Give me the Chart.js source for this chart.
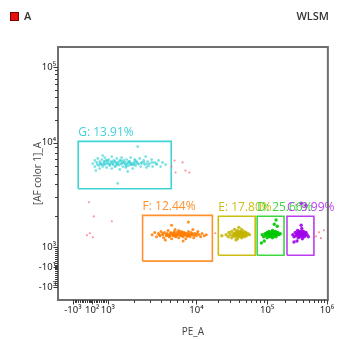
<!DOCTYPE html>
<html><head><meta charset="utf-8">
<script src="https://cdn.jsdelivr.net/npm/chart.js@4/dist/chart.umd.min.js"></script>
<style>html,body{margin:0;padding:0;background:#fff}#wrap{width:339px;height:340px;position:relative}</style>
</head><body><div id="wrap"><canvas id="c" width="339" height="340"></canvas></div>
<script>
// ---------- texts ----------
const xTitle = 'PE_A';
const yTitle = '[AF color 1]_A';
const legendLabel = 'A';
const sampleName = 'WLSM';
// ---------- tick labels ----------
const xMajorTicks = [-1000, 100, 1000, 1e4, 1e5, 1e6];
const xMajorLabels = ['-10³', '10²', '10³', '10⁴', '10⁵', '10⁶'];
const yMajorTicks = [-1000, -10, 1000, 1e4, 1e5];
const yMajorLabels = ['-10³', '-10¹', '10³', '10⁴', '10⁵'];
// ---------- gates (raw intensity) ----------
const gateNames = ['G', 'F', 'E', 'D', 'C'];
const gatePercents = ['13.91', '12.44', '17.80', '25.66', '9.99'];
const gateX = [[-697, 5200], [2470, 16800], [20400, 67800], [72300, 192000], [215000, 607000]];
const gateY = [[3620, 10400], [300, 2017], [600, 1975], [600, 1975], [600, 1975]];
// ---------- populations (log10 PE_A, log10 AF) ----------
const popG = [[2.16,3.80],[2.41,3.829],[2.41,3.771],[2.57,3.81],[2.63,3.848],[2.69,3.781],[2.73,3.819],[2.73,3.752],[2.78,3.80],[2.82,3.838],[2.85,3.771],[2.89,3.81],[2.92,3.857],[2.92,3.79],[2.95,3.829],[2.97,3.762],[3.0,3.80],[3.011,3.838],[3.022,3.781],[3.034,3.819],[3.045,3.867],[3.045,3.752],[3.056,3.80],[3.067,3.829],[3.079,3.771],[3.09,3.81],[3.101,3.848],[3.112,3.79],[3.124,3.819],[3.135,3.743],[3.146,3.80],[3.157,3.857],[3.169,3.771],[3.18,3.829],[3.191,3.80],[3.202,3.762],[3.213,3.838],[3.225,3.81],[3.236,3.781],[3.247,3.819],[3.258,3.857],[3.27,3.79],[3.281,3.752],[3.292,3.81],[3.303,3.838],[3.315,3.781],[3.326,3.819],[3.337,3.80],[3.36,3.848],[3.371,3.771],[3.382,3.81],[3.404,3.829],[3.416,3.79],[3.438,3.762],[3.449,3.819],[3.472,3.80],[3.494,3.838],[3.506,3.771],[3.528,3.81],[3.551,3.79],[3.573,3.829],[3.596,3.771],[3.618,3.81],[3.652,3.79],[3.112,3.61],[3.337,3.962],[2.50,3.733],[2.85,3.876],[3.225,3.724],[3.427,3.867],[3.05,3.815],[3.1,3.795],[3.15,3.825],[3.2,3.79],[3.25,3.805],[3.3,3.795],[3.02,3.79],[3.17,3.81],[2.9,3.82],[2.8,3.79],
  [2.95,3.80],[3.0,3.815],[3.03,3.80],[3.06,3.79],[3.08,3.82],[3.11,3.805],[3.13,3.785],[3.16,3.80],[3.19,3.815],[3.22,3.795],[3.24,3.82],[3.27,3.80],[3.29,3.785],[3.32,3.81],[3.35,3.795],[3.38,3.80],[3.41,3.81],[3.44,3.795],[2.87,3.79],[2.99,3.83],[3.14,3.835],[3.21,3.775],[3.31,3.83],[3.09,3.775],[3.26,3.79],[2.75,3.80],[2.6,3.79],[3.46,3.78],[3.5,3.81],[3.55,3.80]];
const popF = [[3.50,3.12],[3.53,3.14],[3.55,3.10],[3.57,3.13],[3.59,3.11],[3.60,3.15],[3.62,3.12],[3.63,3.09],[3.64,3.14],[3.66,3.11],[3.67,3.13],[3.68,3.16],[3.69,3.10],[3.70,3.12],[3.71,3.14],[3.72,3.08],[3.73,3.13],[3.74,3.11],[3.75,3.15],[3.76,3.12],[3.77,3.10],[3.78,3.14],[3.79,3.12],[3.80,3.09],[3.80,3.16],[3.81,3.13],[3.82,3.11],[3.83,3.15],[3.84,3.12],[3.85,3.10],[3.86,3.14],[3.87,3.12],[3.88,3.08],[3.89,3.13],[3.90,3.11],[3.91,3.15],[3.92,3.12],[3.93,3.10],[3.94,3.14],[3.95,3.12],[3.97,3.09],[3.98,3.13],[4.00,3.11],[4.02,3.15],[4.04,3.12],[4.06,3.10],[4.08,3.13],[4.11,3.11],[4.14,3.12],[3.72,3.21],[3.91,3.24],[3.65,3.07],[3.85,3.06],[3.76,3.17],[3.96,3.17],[3.70,3.105],[3.78,3.125],[3.83,3.135],[3.88,3.115],[3.74,3.13],
  [3.66,3.125],[3.68,3.115],[3.71,3.13],[3.73,3.12],[3.75,3.135],[3.77,3.115],[3.79,3.13],[3.81,3.12],[3.82,3.14],[3.84,3.11],[3.86,3.125],[3.87,3.135],[3.89,3.12],[3.91,3.13],[3.93,3.12],[3.95,3.13],[3.97,3.115],[3.99,3.125],[3.62,3.13],[3.58,3.12],[3.76,3.105],[3.80,3.145],[3.85,3.14],[3.90,3.105],[4.01,3.13]];
const popE = [[4.42,3.12],[4.45,3.10],[4.46,3.14],[4.48,3.12],[4.50,3.09],[4.50,3.15],[4.52,3.11],[4.53,3.13],[4.54,3.17],[4.55,3.10],[4.56,3.12],[4.57,3.14],[4.58,3.08],[4.58,3.16],[4.59,3.11],[4.60,3.13],[4.61,3.15],[4.61,3.10],[4.62,3.12],[4.63,3.14],[4.64,3.09],[4.64,3.17],[4.65,3.11],[4.66,3.13],[4.67,3.15],[4.68,3.10],[4.69,3.12],[4.70,3.14],[4.71,3.11],[4.73,3.13],[4.75,3.12],[4.36,3.11],[4.60,3.19],[4.56,3.07],[4.62,3.125],[4.59,3.135],[4.65,3.125],[4.57,3.115],[4.68,3.135],[4.54,3.125],
  [4.53,3.12],[4.55,3.13],[4.57,3.125],[4.58,3.12],[4.60,3.12],[4.60,3.14],[4.62,3.13],[4.63,3.12],[4.64,3.135],[4.66,3.12],[4.67,3.13],[4.69,3.125],[4.59,3.105],[4.61,3.115],[4.63,3.145],[4.65,3.105],[4.56,3.14],[4.70,3.13]];
const popD = [[4.93,3.12],[4.95,3.10],[4.97,3.13],[4.98,3.11],[5.00,3.14],[5.00,3.09],[5.02,3.12],[5.03,3.15],[5.04,3.10],[5.05,3.13],[5.06,3.11],[5.07,3.14],[5.08,3.12],[5.09,3.16],[5.09,3.09],[5.10,3.13],[5.11,3.11],[5.12,3.14],[5.13,3.12],[5.14,3.15],[5.15,3.10],[5.16,3.13],[5.17,3.12],[5.18,3.14],[5.20,3.12],[5.22,3.13],[5.12,3.22],[5.17,3.20],[5.15,3.26],[4.92,3.04],[4.96,3.06],[5.06,3.125],[5.10,3.12],[5.04,3.135],[5.12,3.125],[5.08,3.105],[5.14,3.135],[5.02,3.115],[5.11,3.145],[5.07,3.13],
  [5.00,3.12],[5.02,3.13],[5.04,3.12],[5.05,3.115],[5.06,3.135],[5.08,3.125],[5.09,3.115],[5.10,3.135],[5.11,3.125],[5.13,3.13],[5.14,3.12],[5.15,3.13],[5.16,3.12],[5.18,3.125],[5.03,3.105],[5.07,3.145],[5.12,3.105],[5.13,3.145],[4.99,3.13],[5.17,3.135]];
const popC = [[5.43,3.12],[5.45,3.10],[5.47,3.14],[5.48,3.11],[5.50,3.13],[5.51,3.16],[5.52,3.09],[5.53,3.12],[5.54,3.15],[5.55,3.10],[5.56,3.13],[5.57,3.11],[5.58,3.14],[5.58,3.18],[5.59,3.08],[5.60,3.12],[5.61,3.15],[5.62,3.10],[5.63,3.13],[5.64,3.11],[5.65,3.14],[5.67,3.12],[5.69,3.10],[5.57,3.21],[5.50,3.06],[5.56,3.125],[5.59,3.115],[5.54,3.105],[5.61,3.135],[5.57,3.145],[5.57,3.42],[5.65,3.40],[5.45,3.05],
  [5.50,3.12],[5.52,3.13],[5.53,3.115],[5.55,3.125],[5.56,3.14],[5.57,3.12],[5.58,3.13],[5.59,3.125],[5.60,3.14],[5.61,3.12],[5.62,3.13],[5.63,3.12],[5.55,3.11],[5.58,3.105],[5.60,3.105],[5.64,3.135],[5.52,3.145],[5.58,3.155]];
// ungated events (raw intensity)
const strays = [[5660,6745],[6970,6460],[7520,5410],[5810,5180],[8340,5180],[5240,5900],[-86,2690],[200,1970],[1110,1770],[-200,1300],[-29,1360],[143,1245],[736000,1390],[891000,1450],[794000,1220],[656000,1270],[18500,1360]];

// ---------- biexponential display transform ----------
const X_AXIS = {vals: [-1000, 1000, 1e4, 1e5, 1e6], units: [0, 35, 124, 195, 255], min: -15, max: 256};
const Y_AXIS = {vals: [-1000, 1000, 1e4, 1e5], units: [0, 40, 145, 221], min: -13, max: 241};
function biex(v, ax) {
  const a = ax.vals, u = ax.units;
  if (v <= a[1]) return u[0] + (v - a[0]) / (a[1] - a[0]) * (u[1] - u[0]);
  const l = Math.log10(v);
  for (let i = 1; i < a.length - 1; i++) {
    if (v <= a[i + 1]) {
      const l0 = Math.log10(a[i]), l1 = Math.log10(a[i + 1]);
      return u[i] + (l - l0) / (l1 - l0) * (u[i + 1] - u[i]);
    }
  }
  const n = a.length - 1, l0 = Math.log10(a[n - 1]), l1 = Math.log10(a[n]);
  return u[n] + (l - l1) / (l1 - l0) * (u[n] - u[n - 1]);
}
const fromRaw = p => ({x: biex(p[0], X_AXIS), y: biex(p[1], Y_AXIS)});
const fromLog = p => fromRaw([Math.pow(10, p[0]), Math.pow(10, p[1])]);
function minorTicks(maxExp) {
  const t = [];
  for (let v = -900; v <= 900; v += 100) if (v !== 100 && v !== 0) t.push(v);
  for (let v = -90; v <= 90; v += 10) t.push(v);
  for (let e = 3; e < maxExp; e++) for (let m = 2; m <= 9; m++) t.push(m * Math.pow(10, e));
  return t;
}
const gateColors = ['#3fd3d6', '#ff9130', '#cbbd12', '#3fd53f', '#bb3cf0'];
const popColors = ['rgba(40,205,210,0.6)', 'rgba(255,125,0,0.85)', 'rgba(195,180,0,0.85)', 'rgba(0,200,0,0.9)', 'rgba(160,0,235,0.9)'];
const popRadius = [1.4, 1.5, 1.7, 1.7, 1.7];
const pops = [popG, popF, popE, popD, popC];

const datasets = [];
datasets.push({data: strays.map(fromRaw), pointRadius: 1.1, pointBorderWidth: 0, pointBackgroundColor: 'rgba(255,110,120,0.75)', showLine: false});
pops.forEach((p, i) => datasets.push({data: p.map(fromLog), pointRadius: popRadius[i], pointBorderWidth: 0, pointBackgroundColor: popColors[i], showLine: false}));
gateNames.forEach((g, i) => {
  const [x1, x2] = gateX[i], [y1, y2] = gateY[i];
  datasets.push({data: [[x1, y1], [x2, y1], [x2, y2], [x1, y2], [x1, y1]].map(fromRaw), showLine: true, pointRadius: 0,
    borderColor: gateColors[i], borderWidth: 1.6, tension: 0, fill: false});
});

const extras = {
  id: 'extras',
  afterDatasetsDraw(chart) {
    const {ctx, scales: {x, y}} = chart;
    ctx.save();
    ctx.font = '12px "Open Sans"';
    ctx.textBaseline = 'alphabetic';
    ctx.textAlign = 'left';
    gateNames.forEach((g, i) => {
      ctx.fillStyle = gateColors[i];
      const px = x.getPixelForValue(biex(gateX[i][0], X_AXIS));
      const py = y.getPixelForValue(biex(gateY[i][1], Y_AXIS));
      ctx.fillText(g + ': ' + gatePercents[i] + '%', px, py - 5);
    });
    ctx.restore();
  },
  afterDraw(chart) {
    const {ctx, chartArea: a, scales: {x, y}} = chart;
    ctx.save();
    ctx.strokeStyle = '#6e6e6e';
    ctx.lineWidth = 2;
    ctx.strokeRect(a.left, a.top, a.right - a.left, a.bottom - a.top);
    ctx.strokeStyle = '#3a3a3a';
    ctx.lineWidth = 1;
    ctx.beginPath();
    const xt = (v, len) => { const p = Math.round(x.getPixelForValue(biex(v, X_AXIS))) + 0.5; ctx.moveTo(p, a.bottom); ctx.lineTo(p, a.bottom + len); };
    const yt = (v, len) => { const p = Math.round(y.getPixelForValue(biex(v, Y_AXIS))) + 0.5; ctx.moveTo(a.left, p); ctx.lineTo(a.left - len, p); };
    xMajorTicks.forEach(v => xt(v, 4.5));
    minorTicks(6).forEach(v => xt(v, 3));
    yMajorTicks.forEach(v => yt(v, 4.5));
    minorTicks(5).forEach(v => yt(v, 3));
    ctx.stroke();
    ctx.fillStyle = '#e41010';
    ctx.fillRect(10, 12, 9, 9);
    ctx.strokeStyle = '#7a0000';
    ctx.strokeRect(10.5, 12.5, 8, 8);
    ctx.fillStyle = '#333';
    ctx.textBaseline = 'middle';
    ctx.font = '600 11px "Open Sans"';
    ctx.fillText(legendLabel, 24, 17);
    ctx.textAlign = 'right';
    ctx.fillText(sampleName, 329, 17);
    ctx.restore();
  }
};

new Chart(document.getElementById('c'), {
  type: 'scatter',
  data: {datasets},
  plugins: [extras],
  options: {
    responsive: false, animation: false, devicePixelRatio: 1,
    layout: {padding: {left: 0, right: 10, top: 47, bottom: 0}},
    plugins: {legend: {display: false}, tooltip: {enabled: false}},
    scales: {
      x: {
        type: 'linear', min: X_AXIS.min, max: X_AXIS.max, bounds: 'data',
        grid: {display: false, drawTicks: false}, border: {display: false},
        afterBuildTicks: s => { s.ticks = xMajorTicks.map(v => ({value: biex(v, X_AXIS)})); },
        ticks: {autoSkip: false, maxRotation: 0, padding: 5, color: '#222', font: {family: 'Noto Sans', size: 9.5}, callback: (v, i) => xMajorLabels[i]},
        title: {display: true, text: xTitle, color: '#444', font: {family: 'Open Sans', size: 10}, padding: {top: 0, bottom: 2}},
        afterFit: s => { s.height = 40; }
      },
      y: {
        type: 'linear', min: Y_AXIS.min, max: Y_AXIS.max, bounds: 'data',
        grid: {display: false, drawTicks: false}, border: {display: false},
        afterBuildTicks: s => { s.ticks = yMajorTicks.map(v => ({value: biex(v, Y_AXIS)})); },
        ticks: {autoSkip: false, padding: 2, color: '#222', font: {family: 'Noto Sans', size: 9.5}, callback: (v, i) => yMajorLabels[i]},
        title: {display: true, text: yTitle, color: '#444', font: {family: 'Open Sans', size: 10}, padding: {top: 32, bottom: 0}},
        afterFit: s => { s.width = 58; }
      }
    }
  }
});
</script></body></html>
